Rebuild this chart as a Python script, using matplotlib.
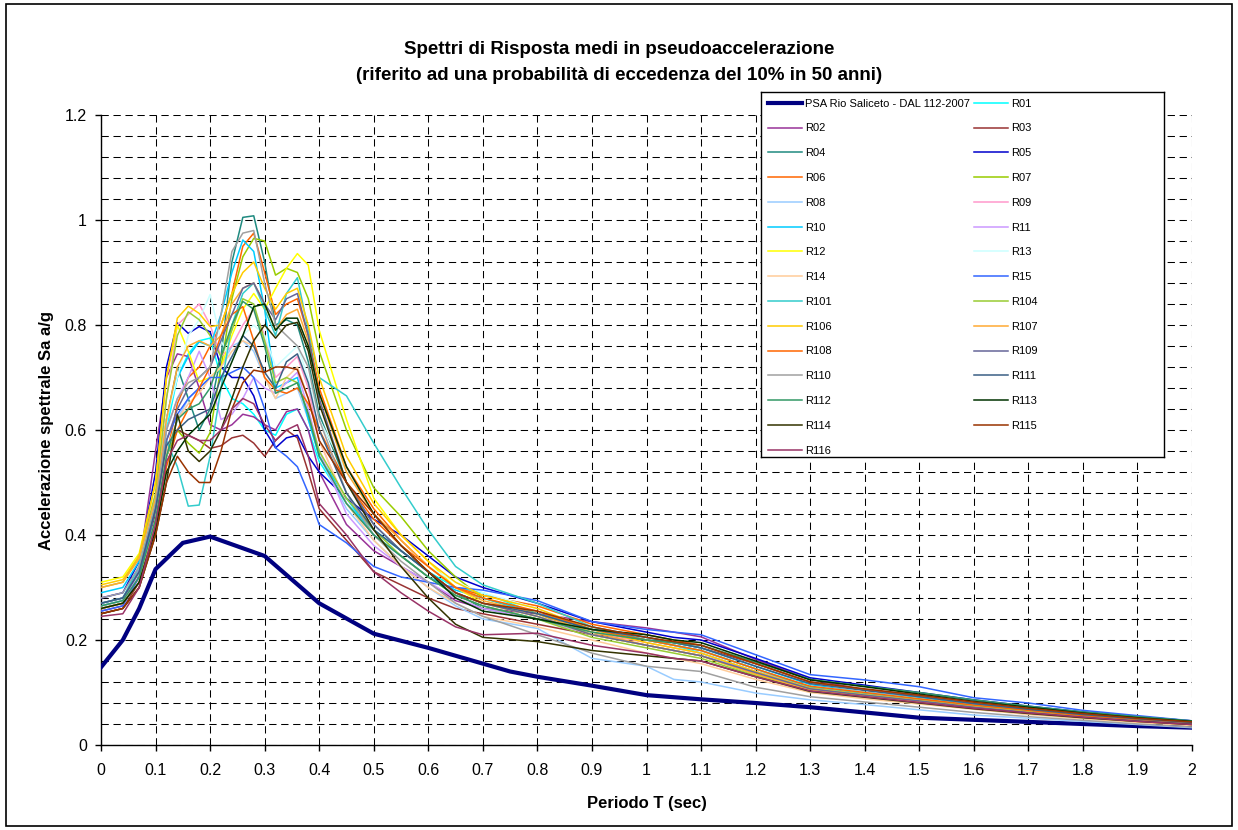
import matplotlib
matplotlib.use('Agg')
import matplotlib.pyplot as plt
from matplotlib.patches import Rectangle
from matplotlib.ticker import FuncFormatter, MultipleLocator
import numpy as np

plt.rcParams['font.family'] = ['Liberation Sans', 'DejaVu Sans']

# ---------------- data ----------------
title_1 = "Spettri di Risposta medi in pseudoaccelerazione"
title_2 = "(riferito ad una probabilità di eccedenza del 10% in 50 anni)"
x_label = "Periodo T (sec)"
y_label = "Accelerazione spettrale Sa a/g"
psa_label = "PSA Rio Saliceto - DAL 112-2007"

T_psa = [0, 0.04, 0.07, 0.1, 0.15, 0.2, 0.3, 0.4, 0.5, 0.6, 0.7, 0.75, 0.8, 0.9,
         1.0, 1.1, 1.2, 1.3, 1.4, 1.5, 1.6, 1.7, 1.8, 1.9, 2.0]
PSA = [0.148, 0.200, 0.260, 0.335, 0.385, 0.397, 0.360, 0.270, 0.212, 0.185, 0.155, 0.140,
       0.130, 0.113, 0.095, 0.087, 0.080, 0.072, 0.062, 0.052, 0.048, 0.044, 0.040, 0.036, 0.033]

T = [0, 0.04, 0.07, 0.1, 0.12, 0.14, 0.16, 0.18, 0.2, 0.22, 0.24, 0.26, 0.28, 0.3, 0.32,
     0.34, 0.36, 0.38, 0.4, 0.45, 0.5, 0.55, 0.6, 0.65, 0.7, 0.8, 0.9, 1.0, 1.05, 1.1,
     1.2, 1.3, 1.4, 1.5, 1.6, 1.7, 1.8, 1.9, 2.0]

R01 = [0.270, 0.280, 0.330, 0.450, 0.600,
       0.700, 0.745, 0.770, 0.775, 0.700, 0.660, 0.650, 0.630, 0.600, 0.590, 0.630, 0.640, 0.600, 0.540,
       0.460, 0.410, 0.370, 0.330, 0.300, 0.290, 0.250, 0.220, 0.200, 0.190, 0.175, 0.140, 0.110, 0.100, 0.088, 0.076, 0.066, 0.057, 0.049, 0.042]
R02 = [0.255, 0.265, 0.340, 0.560, 0.700,
       0.745, 0.740, 0.680, 0.610, 0.600, 0.610, 0.630, 0.625, 0.610, 0.600, 0.635, 0.640, 0.600, 0.520,
       0.420, 0.370, 0.340, 0.310, 0.275, 0.260, 0.250, 0.235, 0.223, 0.215, 0.206, 0.163, 0.125, 0.105, 0.095, 0.080, 0.068, 0.058, 0.050, 0.043]
R03 = [0.250, 0.260, 0.310, 0.440, 0.550,
       0.600, 0.590, 0.580, 0.565, 0.570, 0.585, 0.590, 0.575, 0.550, 0.580, 0.600, 0.585, 0.520, 0.450,
       0.390, 0.330, 0.305, 0.280, 0.260, 0.250, 0.230, 0.210, 0.200, 0.195, 0.185, 0.155, 0.120, 0.105, 0.092, 0.080, 0.068, 0.058, 0.050, 0.043]
R04 = [0.265, 0.275, 0.330, 0.470, 0.620,
       0.720, 0.660, 0.600, 0.640, 0.740, 0.920, 1.005, 1.008, 0.920, 0.800, 0.810, 0.800, 0.730, 0.630,
       0.500, 0.420, 0.370, 0.330, 0.290, 0.260, 0.240, 0.220, 0.200, 0.190, 0.180, 0.145, 0.110, 0.100, 0.088, 0.076, 0.066, 0.056, 0.048, 0.041]
R05 = [0.280, 0.290, 0.350, 0.520, 0.720,
       0.804, 0.784, 0.797, 0.787, 0.720, 0.700, 0.700, 0.665, 0.600, 0.566, 0.585, 0.590, 0.550, 0.520,
       0.470, 0.430, 0.400, 0.360, 0.320, 0.300, 0.270, 0.235, 0.215, 0.205, 0.200, 0.165, 0.128, 0.114, 0.100, 0.086, 0.074, 0.063, 0.054, 0.046]
R06 = [0.260, 0.270, 0.320, 0.420, 0.550,
       0.650, 0.700, 0.720, 0.760, 0.800, 0.860, 0.950, 0.975, 0.900, 0.820, 0.840, 0.850, 0.780, 0.680,
       0.530, 0.450, 0.390, 0.340, 0.300, 0.285, 0.265, 0.230, 0.210, 0.200, 0.190, 0.155, 0.120, 0.105, 0.093, 0.080, 0.069, 0.059, 0.050, 0.043]
R07 = [0.260, 0.270, 0.320, 0.430, 0.550,
       0.600, 0.575, 0.556, 0.595, 0.720, 0.850, 0.930, 0.965, 0.960, 0.895, 0.908, 0.900, 0.850, 0.750,
       0.600, 0.490, 0.435, 0.370, 0.320, 0.280, 0.250, 0.210, 0.190, 0.180, 0.170, 0.135, 0.105, 0.095, 0.084, 0.072, 0.062, 0.053, 0.046, 0.040]
R08 = [0.265, 0.275, 0.320, 0.430, 0.550,
       0.620, 0.660, 0.680, 0.700, 0.720, 0.760, 0.770, 0.750, 0.700, 0.660, 0.670, 0.680, 0.620, 0.550,
       0.450, 0.390, 0.340, 0.300, 0.265, 0.240, 0.222, 0.165, 0.150, 0.125, 0.120, 0.099, 0.086, 0.077, 0.067, 0.057, 0.051, 0.045, 0.039, 0.033]
R09 = [0.270, 0.280, 0.330, 0.470, 0.660,
       0.800, 0.820, 0.840, 0.800, 0.740, 0.760, 0.800, 0.830, 0.780, 0.700, 0.720, 0.740, 0.680, 0.580,
       0.460, 0.400, 0.360, 0.320, 0.290, 0.270, 0.245, 0.215, 0.195, 0.185, 0.175, 0.140, 0.110, 0.098, 0.086, 0.074, 0.064, 0.055, 0.047, 0.040]
R10 = [0.290, 0.300, 0.350, 0.470, 0.620,
       0.700, 0.740, 0.768, 0.760, 0.820, 0.900, 0.962, 0.940, 0.830, 0.680, 0.690, 0.700, 0.620, 0.550,
       0.470, 0.400, 0.360, 0.320, 0.295, 0.280, 0.250, 0.225, 0.205, 0.195, 0.185, 0.150, 0.115, 0.100, 0.090, 0.077, 0.066, 0.057, 0.049, 0.042]
R11 = [0.260, 0.270, 0.330, 0.460, 0.600,
       0.660, 0.700, 0.750, 0.700, 0.620, 0.630, 0.660, 0.700, 0.680, 0.670, 0.690, 0.710, 0.640, 0.560,
       0.440, 0.380, 0.340, 0.310, 0.280, 0.260, 0.240, 0.210, 0.190, 0.180, 0.170, 0.140, 0.108, 0.096, 0.085, 0.073, 0.063, 0.054, 0.046, 0.040]
R12 = [0.310, 0.320, 0.365, 0.500, 0.700,
       0.800, 0.750, 0.692, 0.700, 0.720, 0.780, 0.830, 0.860, 0.830, 0.870, 0.908, 0.936, 0.914, 0.790,
       0.620, 0.470, 0.400, 0.350, 0.300, 0.270, 0.245, 0.210, 0.190, 0.180, 0.170, 0.135, 0.105, 0.094, 0.083, 0.071, 0.062, 0.053, 0.046, 0.040]
R13 = [0.270, 0.280, 0.340, 0.470, 0.620,
       0.700, 0.780, 0.810, 0.858, 0.770, 0.730, 0.780, 0.800, 0.780, 0.720, 0.740, 0.760, 0.700, 0.620,
       0.520, 0.440, 0.380, 0.340, 0.310, 0.290, 0.260, 0.220, 0.200, 0.190, 0.180, 0.145, 0.112, 0.100, 0.088, 0.075, 0.065, 0.056, 0.048, 0.041]
R14 = [0.260, 0.270, 0.320, 0.430, 0.560,
       0.620, 0.650, 0.670, 0.700, 0.720, 0.750, 0.770, 0.760, 0.700, 0.660, 0.700, 0.720, 0.660, 0.580,
       0.460, 0.390, 0.340, 0.300, 0.270, 0.245, 0.225, 0.200, 0.175, 0.165, 0.155, 0.125, 0.100, 0.088, 0.078, 0.068, 0.058, 0.050, 0.043, 0.037]
R15 = [0.255, 0.265, 0.320, 0.450, 0.580,
       0.630, 0.660, 0.680, 0.700, 0.700, 0.710, 0.720, 0.700, 0.640, 0.566, 0.550, 0.530, 0.480, 0.420,
       0.385, 0.340, 0.320, 0.310, 0.300, 0.295, 0.275, 0.235, 0.220, 0.215, 0.210, 0.172, 0.134, 0.124, 0.111, 0.090, 0.080, 0.066, 0.056, 0.046]
R101 = [0.270, 0.280, 0.340, 0.460, 0.580,
        0.530, 0.455, 0.457, 0.550, 0.680, 0.800, 0.860, 0.880, 0.830, 0.780, 0.860, 0.890, 0.790, 0.700,
        0.665, 0.575, 0.490, 0.410, 0.340, 0.305, 0.270, 0.225, 0.200, 0.190, 0.180, 0.145, 0.110, 0.098, 0.087, 0.075, 0.065, 0.056, 0.048, 0.041]
R104 = [0.300, 0.310, 0.360, 0.480, 0.660,
        0.780, 0.825, 0.810, 0.780, 0.740, 0.790, 0.850, 0.840, 0.770, 0.690, 0.700, 0.690, 0.630, 0.560,
        0.470, 0.410, 0.360, 0.320, 0.285, 0.265, 0.240, 0.205, 0.185, 0.175, 0.165, 0.132, 0.104, 0.093, 0.082, 0.071, 0.062, 0.053, 0.046, 0.040]
R106 = [0.305, 0.315, 0.360, 0.500, 0.700,
        0.813, 0.836, 0.822, 0.797, 0.800, 0.860, 0.900, 0.920, 0.870, 0.830, 0.860, 0.870, 0.800, 0.700,
        0.550, 0.460, 0.400, 0.350, 0.310, 0.285, 0.260, 0.220, 0.195, 0.185, 0.175, 0.140, 0.108, 0.096, 0.085, 0.073, 0.063, 0.054, 0.046, 0.040]
R107 = [0.300, 0.310, 0.355, 0.470, 0.620,
        0.720, 0.760, 0.770, 0.760, 0.780, 0.840, 0.870, 0.880, 0.840, 0.790, 0.820, 0.830, 0.770, 0.670,
        0.520, 0.440, 0.390, 0.340, 0.300, 0.275, 0.250, 0.215, 0.190, 0.180, 0.170, 0.135, 0.105, 0.093, 0.082, 0.071, 0.061, 0.053, 0.045, 0.039]
R108 = [0.260, 0.270, 0.310, 0.410, 0.530,
        0.600, 0.640, 0.680, 0.720, 0.780, 0.820, 0.835, 0.770, 0.700, 0.676, 0.670, 0.680, 0.650, 0.600,
        0.500, 0.430, 0.380, 0.340, 0.300, 0.280, 0.255, 0.220, 0.200, 0.190, 0.180, 0.145, 0.112, 0.100, 0.088, 0.076, 0.066, 0.056, 0.048, 0.042]
R109 = [0.270, 0.280, 0.330, 0.450, 0.580,
        0.640, 0.680, 0.700, 0.720, 0.770, 0.820, 0.870, 0.880, 0.840, 0.810, 0.850, 0.860, 0.780, 0.660,
        0.500, 0.420, 0.370, 0.330, 0.290, 0.270, 0.245, 0.210, 0.190, 0.180, 0.170, 0.138, 0.107, 0.095, 0.084, 0.072, 0.062, 0.053, 0.046, 0.040]
R110 = [0.280, 0.290, 0.340, 0.460, 0.600,
        0.660, 0.690, 0.700, 0.720, 0.820, 0.940, 0.975, 0.980, 0.880, 0.800, 0.780, 0.760, 0.720, 0.620,
        0.480, 0.400, 0.350, 0.310, 0.270, 0.245, 0.210, 0.175, 0.150, 0.145, 0.140, 0.110, 0.092, 0.082, 0.072, 0.062, 0.054, 0.047, 0.040, 0.034]
R111 = [0.270, 0.280, 0.330, 0.450, 0.570,
        0.600, 0.620, 0.630, 0.640, 0.700, 0.740, 0.780, 0.760, 0.710, 0.680, 0.730, 0.745, 0.690, 0.600,
        0.480, 0.410, 0.370, 0.330, 0.290, 0.270, 0.250, 0.220, 0.205, 0.195, 0.185, 0.150, 0.117, 0.104, 0.092, 0.079, 0.068, 0.058, 0.050, 0.043]
R112 = [0.265, 0.275, 0.320, 0.430, 0.550,
        0.620, 0.640, 0.650, 0.680, 0.740, 0.800, 0.845, 0.830, 0.760, 0.670, 0.680, 0.690, 0.630, 0.550,
        0.460, 0.400, 0.360, 0.320, 0.285, 0.265, 0.240, 0.215, 0.200, 0.195, 0.190, 0.158, 0.125, 0.112, 0.100, 0.086, 0.074, 0.063, 0.054, 0.046]
R113 = [0.260, 0.270, 0.310, 0.410, 0.520,
        0.560, 0.590, 0.610, 0.630, 0.680, 0.730, 0.780, 0.835, 0.840, 0.790, 0.813, 0.813, 0.760, 0.670,
        0.530, 0.440, 0.380, 0.330, 0.280, 0.255, 0.240, 0.220, 0.210, 0.200, 0.195, 0.160, 0.124, 0.111, 0.097, 0.083, 0.072, 0.061, 0.052, 0.045]
R114 = [0.250, 0.260, 0.300, 0.400, 0.500,
        0.630, 0.560, 0.540, 0.560, 0.600, 0.660, 0.720, 0.770, 0.800, 0.775, 0.800, 0.805, 0.750, 0.650,
        0.500, 0.410, 0.340, 0.280, 0.230, 0.205, 0.197, 0.180, 0.170, 0.165, 0.160, 0.130, 0.102, 0.091, 0.080, 0.069, 0.060, 0.052, 0.045, 0.039]
R115 = [0.250, 0.260, 0.300, 0.400, 0.500,
        0.550, 0.520, 0.500, 0.500, 0.560, 0.640, 0.690, 0.714, 0.710, 0.720, 0.720, 0.715, 0.660, 0.580,
        0.500, 0.440, 0.380, 0.330, 0.290, 0.270, 0.255, 0.225, 0.205, 0.197, 0.190, 0.155, 0.120, 0.107, 0.095, 0.082, 0.070, 0.060, 0.051, 0.044]
R116 = [0.245, 0.250, 0.300, 0.420, 0.540,
        0.580, 0.590, 0.580, 0.580, 0.600, 0.640, 0.660, 0.650, 0.610, 0.580, 0.600, 0.610, 0.550, 0.460,
        0.400, 0.330, 0.290, 0.255, 0.225, 0.210, 0.213, 0.190, 0.175, 0.165, 0.160, 0.130, 0.103, 0.092, 0.081, 0.070, 0.061, 0.053, 0.045, 0.039]

series_names = ["R01", "R02", "R03", "R04", "R05", "R06", "R07", "R08", "R09", "R10",
                "R11", "R12", "R13", "R14", "R15", "R101", "R104", "R106", "R107", "R108",
                "R109", "R110", "R111", "R112", "R113", "R114", "R115", "R116"]
series_values = [R01, R02, R03, R04, R05, R06, R07, R08, R09, R10, R11, R12, R13, R14, R15,
                 R101, R104, R106, R107, R108, R109, R110, R111, R112, R113, R114, R115, R116]

# ---------------- styles ----------------
series_colors = {
    "R01": "#00FFFF", "R02": "#993399", "R03": "#993333", "R04": "#1F8A80", "R05": "#0000CC",
    "R06": "#FF6600", "R07": "#99CC00", "R08": "#99CCFF", "R09": "#FF99CC", "R10": "#00CCFF",
    "R11": "#CC99FF", "R12": "#FFFF00", "R13": "#CCFFFF", "R14": "#FFCC99", "R15": "#3366FF",
    "R101": "#33CCCC", "R104": "#99CC33", "R106": "#FFCC00", "R107": "#FFAA33", "R108": "#FF6600",
    "R109": "#666699", "R110": "#A0A0A0", "R111": "#3A5F85", "R112": "#339966", "R113": "#003300",
    "R114": "#333300", "R115": "#993300", "R116": "#993366",
}
psa_color = "#000080"

W, H = 1238, 830
fig = plt.figure(figsize=(W / 100, H / 100), dpi=100)

# outer chart border
fig.patches.append(Rectangle((6 / W, 4 / H), (W - 12) / W, (H - 8) / H, transform=fig.transFigure,
                             fill=False, edgecolor='black', linewidth=1.2))

ax_l, ax_r, ax_t, ax_b = 101, 1192, 115, 745
ax = fig.add_axes([ax_l / W, (H - ax_b) / H, (ax_r - ax_l) / W, (ax_b - ax_t) / H])

handles = []
h_psa, = ax.plot(T_psa, PSA, color=psa_color, lw=3.0, label=psa_label, zorder=3,
                 solid_joinstyle='miter')
handles.append(h_psa)
for name, vals in zip(series_names, series_values):
    h, = ax.plot(T, vals, color=series_colors[name], lw=1.1, label=name, zorder=3)
    handles.append(h)

ax.set_xlim(0, 2)
ax.set_ylim(0, 1.2)
ax.xaxis.set_major_locator(MultipleLocator(0.1))
ax.yaxis.set_major_locator(MultipleLocator(0.2))
ax.yaxis.set_minor_locator(MultipleLocator(0.04))
fmt = FuncFormatter(lambda v, p: ('%g' % round(v, 2)))
ax.xaxis.set_major_formatter(fmt)
ax.yaxis.set_major_formatter(fmt)

grid_kw = dict(color='black', linewidth=0.75, linestyle=(0, (7, 4.5)))
ax.grid(True, which='major', axis='x', **grid_kw)
ax.grid(True, which='both', axis='y', **grid_kw)
ax.set_axisbelow(True)

for s in ['top', 'right']:
    ax.spines[s].set_visible(False)
for s in ['left', 'bottom']:
    ax.spines[s].set_linewidth(1.0)
    ax.spines[s].set_color('black')

ax.tick_params(axis='x', which='major', direction='out', length=4, width=1, pad=9, labelsize=11.5)
ax.tick_params(axis='y', which='major', direction='out', length=4, width=1, pad=6, labelsize=11.5)
ax.tick_params(axis='y', which='minor', length=0)

ax.set_xlabel(x_label, fontsize=12, fontweight='bold', labelpad=13)
ax.set_ylabel(y_label, fontsize=12, fontweight='bold', labelpad=8)

fig.text(0.5, 1 - 50 / H, title_1, ha='center', va='center', fontsize=13.5, fontweight='bold')
fig.text(0.5, 1 - 76 / H, title_2, ha='center', va='center', fontsize=13.5, fontweight='bold')

# legend box
lg_l, lg_r, lg_t, lg_b = 761, 1164, 92, 457
lax = fig.add_axes([lg_l / W, (H - lg_b) / H, (lg_r - lg_l) / W, (lg_b - lg_t) / H], zorder=5)
lax.set_xticks([])
lax.set_yticks([])
lax.set_facecolor('white')
for s in lax.spines.values():
    s.set_linewidth(1.0)
    s.set_color('black')

order = handles[0::2] + handles[1::2]
leg = lax.legend(order, [h.get_label() for h in order], loc='upper left', ncol=2, frameon=False,
                 fontsize=8, handlelength=3.1, handletextpad=0.25, columnspacing=0.35,
                 labelspacing=1.33, borderaxespad=0.0, borderpad=0.6)

fig.savefig('out.png', dpi=100)
